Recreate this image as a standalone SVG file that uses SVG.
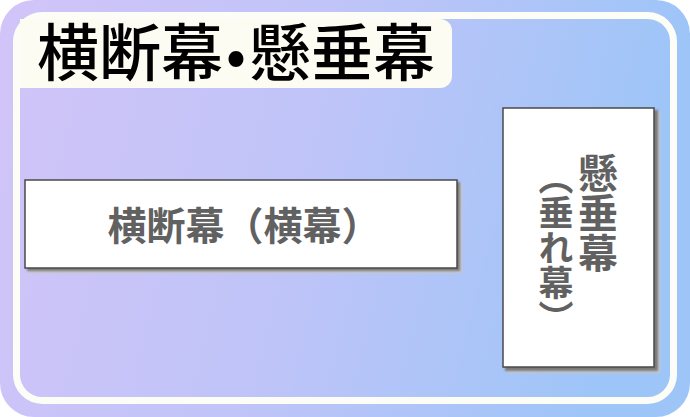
<svg xmlns="http://www.w3.org/2000/svg" width="690" height="417" viewBox="0 0 690 417">
<defs>
<linearGradient id="bg" x1="0" y1="0" x2="1" y2="0.15">
<stop offset="0" stop-color="#d2c4f8"/>
<stop offset="0.5" stop-color="#bfc4f8"/>
<stop offset="1" stop-color="#9dc5f8"/>
</linearGradient>
<filter id="blur" x="-5%" y="-5%" width="110%" height="110%"><feGaussianBlur stdDeviation="0.8"/></filter>
</defs>
<style>
.cjk{font-family:"Noto Sans CJK JP","Noto Sans CJK SC",sans-serif}
.title{font-size:62px;font-weight:500;fill:#000}
.lbl{font-weight:700;fill:#616161}
.box{fill:#fff;stroke:#4a4a4a;stroke-width:1.5}
.shadow{fill:#7a7a7a}
.shadow2{fill:#c8c8c8}
</style>
<rect x="0" y="0" width="690" height="417" fill="#fff"/>
<rect x="0" y="0" width="690" height="417" rx="34" fill="url(#bg)"/>
<rect x="16.5" y="15.5" width="657" height="385" rx="26" fill="none" stroke="#fdfdf8" stroke-width="7"/>
<g id="title">
<path d="M20,19 H440 A12,12 0 0 1 452,31 V76 A12,12 0 0 1 440,88 H20 Z" fill="#fdfcf3"/>
<text class="cjk title" x="37" y="76">横断幕<tspan dx="3" font-size="56">•</tspan><tspan dx="3">懸垂幕</tspan></text>
</g>
<g id="horizontal">
<rect class="shadow2" x="29" y="184" width="433" height="89" filter="url(#blur)"/>
<rect class="shadow" x="27" y="182" width="433" height="89" filter="url(#blur)"/>
<rect class="box" x="25" y="180" width="432" height="88"/>
<text class="cjk lbl" x="244" y="240" font-size="39" text-anchor="middle">横断幕（横幕）</text>
</g>
<g id="vertical">
<rect class="shadow2" x="507" y="112" width="153" height="261" filter="url(#blur)"/>
<rect class="shadow" x="505" y="110" width="153" height="261" filter="url(#blur)"/>
<rect class="box" x="503" y="108" width="151" height="259"/>
<text class="cjk lbl" x="598" y="153" font-size="40" style="writing-mode:vertical-rl">懸垂幕</text>
<text class="cjk lbl" x="556" y="160" font-size="35" style="writing-mode:vertical-rl">（垂れ幕）</text>
</g>
<g id="connectors"/>
</svg>
